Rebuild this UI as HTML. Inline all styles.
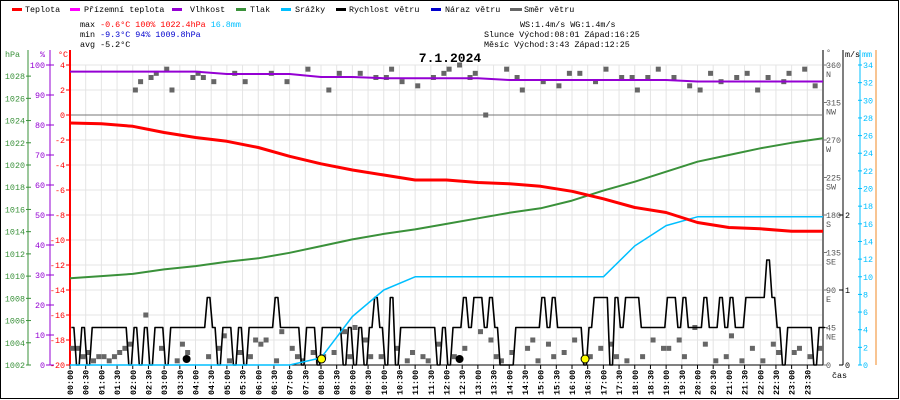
<!DOCTYPE html>
<html><head><meta charset="utf-8">
<style>
html,body{margin:0;padding:0;background:#fff;}
svg{display:block;font-family:"Liberation Mono","DejaVu Sans Mono",monospace;font-size:8.4px;white-space:pre;}
</style></head>
<body>
<svg id="chart" width="900" height="400" viewBox="0 0 900 400" xml:space="preserve">
<rect x="0.5" y="0.5" width="898" height="398" fill="#fff" stroke="#000" stroke-width="1"/>
<g id="legend">
 <g><rect x="12" y="8" width="10" height="3" fill="#ff0000"/><text x="25" y="12">Teplota</text></g>
 <g><rect x="70" y="8" width="10" height="3" fill="#ff00ff"/><text x="84" y="12">Přízemní teplota</text></g>
 <g><rect x="172" y="8" width="10" height="3" fill="#9400d3"/><text x="190" y="12">Vlhkost</text></g>
 <g><rect x="236" y="8" width="10" height="3" fill="#3a913a"/><text x="250" y="12">Tlak</text></g>
 <g><rect x="281" y="8" width="10" height="3" fill="#00bfff"/><text x="295" y="12">Srážky</text></g>
 <g><rect x="336" y="8" width="10" height="3" fill="#000"/><text x="349" y="12">Rychlost větru</text></g>
 <g><rect x="431" y="8" width="10" height="3" fill="#0000cd"/><text x="445" y="12">Náraz větru</text></g>
 <g><rect x="510" y="8" width="12" height="3" fill="#666"/><text x="524" y="12">Směr větru</text></g>
</g>
<g>
 <text x="80" y="27">max <tspan fill="#ff0000">-0.6°C 100%  1022.4hPa  </tspan><tspan fill="#00bfff">16.8mm</tspan></text>
 <text x="80" y="37">min <tspan fill="#0000cd">-9.3°C  94%  1009.8hPa</tspan></text>
 <text x="80" y="47">avg -5.2°C</text>
 <text x="520" y="27">WS:1.4m/s     WG:1.4m/s</text>
 <text x="484" y="37">Slunce Východ:08:01  Západ:16:25</text>
 <text x="484" y="47">Měsíc  Východ:3:43   Západ:12:25</text>
</g>
<text x="450" y="62" text-anchor="middle" font-weight="bold" font-size="13">7.1.2024</text>
<g id="grid"></g>
<g id="axes"></g>
<g id="series"></g>
</svg>
<script>
const hours = [0,1,2,3,4,5,6,7,8,9,10,11,12,13,14,15,16,17,18,19,20,21,22,23,24];
const temperature = [-0.64,-0.7,-0.9,-1.4,-1.8,-2.1,-2.6,-3.3,-3.9,-4.4,-4.8,-5.2,-5.2,-5.4,-5.5,-5.7,-6.1,-6.7,-7.4,-7.8,-8.6,-9.0,-9.1,-9.3,-9.3];
const pressure = [1009.8,1010.0,1010.2,1010.6,1010.9,1011.3,1011.6,1012.1,1012.7,1013.3,1013.8,1014.2,1014.7,1015.2,1015.7,1016.1,1016.8,1017.7,1018.5,1019.4,1020.3,1020.9,1021.5,1022.0,1022.4];
const humidity = [97.8,97.8,97.8,97.8,97.8,97.0,97.0,97.0,96.0,96.0,95.6,95.6,95.6,95.6,95.0,95.0,95.0,95.0,95.0,95.0,94.5,94.5,94.5,94.5,94.5];
const rain = [0,0,0,0,0,0,0,0,0.8,5.5,8.5,10,10,10,10,10,10,10,13.5,15.8,16.8,16.8,16.8,16.8,16.8];
const windSpeed = [
0.5,0,0.5,0,0.5,0.5, 0.5,0.5,0.5,0.5,0.5,0, 0.5,0,0.5,0,0.5,0.5, 0,0.5,0.5,0.5,0.5,0.5,
0.5,0.5,0.9,0.5,0,0.5, 0.5,0,0.5,0,0.5,0.5, 0.5,0.5,0.5,0.9,0.5,0.5, 0.5,0.5,0,0.5,0.5,0,
0.5,0.5,0.5,0.5,0,0.5, 0,0.5,0,0.5,0.9,0.5, 0,0.9,0,0.5,0.5,0.5, 0.5,0.5,0.5,0.5,0,0.5,
0,0.5,0.5,0.9,0.5,0.9, 0.9,0.5,0.9,0.5,0,0, 0,0.5,0.5,0.5,0.5,0.5, 0.9,0.5,0.9,0.5,0.5,0.5,
0.5,0.5,0,0.5,0.9,0.9, 0.9,0,0.9,0.5,0.9,0.9, 0.9,0.5,0.5,0.5,0.5,0.5, 0.9,0.9,0.5,0.9,0.5,0.5,
0.5,0.9,0.5,0.5,0.9,0.5, 0.9,0.5,0.5,0.9,0.9,0.9, 0.9,1.4,0.9,0.5,0,0.5, 0.5,0.5,0.5,0.5,0,0.5, 0.5];
const windDir = [
20,20,10,15,5,10, 10,5,10,15,20,25, 330,340,60,345,350,20, 355,330,5,25,15,345,
350,345,10,340,20,35, 5,350,15,340,10,30, 25,30,350,5,40,340, 20,10,5,355,15,5,
10,330,15,350,40,10, 45,350,30,10,345,10, 345,355,20,340,5,15, 335,10,5,345,25,350,
355,10,360,20,345,350, 40,300,30,10,5,355, 15,345,330,20,30,5, 340,25,10,335,15,350,
30,350,5,10,340,20, 355,25,10,345,5,345, 330,10,345,30,355,20, 20,345,30,10,335,45,
330,25,350,5,340,10, 35,345,5,350,20,330, 5,345,25,15,340,350, 15,20,355,10,335,20];
const xTickLabels = ["00:00","00:30","01:00","01:30","02:00","02:30","03:00","03:30","04:00","04:30","05:00","05:30","06:00","06:30","07:00","07:30","08:00","08:30","09:00","09:30","10:00","10:30","11:00","11:30","12:00","12:30","13:00","13:30","14:00","14:30","15:00","15:30","16:00","16:30","17:00","17:30","18:00","18:30","19:00","19:30","20:00","20:30","21:00","21:30","22:00","22:30","23:00","23:30"];
const tempTicks = [4,2,0,-2,-4,-6,-8,-10,-12,-14,-16,-18,-20];
const humTicks = [100,90,80,70,60,50,40,30,20,10,0];
const presTicks = [1028,1026,1024,1022,1020,1018,1016,1014,1012,1010,1008,1006,1004,1002];
const dirTicks = [360,315,270,225,180,135,90,45,0];
const dirNames = ["N","NW","W","SW","S","SE","E","NE",""];
const windTicks = [2,1,0];
const rainTicks = [34,32,30,28,26,24,22,20,18,16,14,12,10,8,6,4,2,0];
const sunEvents = [8+1/60, 16+25/60];
const moonEvents = [3+43/60, 12+25/60];

const X0=70, X1=823, Y0=65, Y1=365;
const xS = h => X0 + (X1-X0)*h/24;
const yT = t => Y0 + (4-t)*(Y1-Y0)/24;
const yH = v => Y1 - v*(Y1-Y0)/100;
const yP = p => Y1 - (p-1002)*(Y1-Y0)/27;
const yR = r => Y1 - r*(Y1-Y0)/34;
const yW = w => Y1 - w*75;
const yD = d => Y1 - d*(Y1-Y0)/360;
const NS="http://www.w3.org/2000/svg";
function mk(tag, attrs, parent, txt){const e=document.createElementNS(NS,tag);for(const k in attrs)e.setAttribute(k,attrs[k]);if(txt!==undefined)e.textContent=txt;parent.appendChild(e);return e;}
const grid=document.getElementById('grid'), axes=document.getElementById('axes'), series=document.getElementById('series');

for(let i=0;i<=48;i++){const x=xS(i/2);const l=mk('line',{x1:x,y1:Y0,x2:x,y2:Y1,stroke:'#e4e4e4'},grid);

}
tempTicks.forEach(t=>{const y=yT(t);const l=mk('line',{x1:X0,y1:y,x2:X1,y2:y,stroke:t===0?'#777':'#e4e4e4'},grid);

});

mk('line',{x1:X0,y1:Y0-15,x2:X0,y2:Y1,stroke:'#ff0000','stroke-width':2},axes);
mk('line',{x1:50,y1:Y0-15,x2:50,y2:Y1,stroke:'#9400d3','stroke-width':1},axes);
mk('line',{x1:28,y1:Y0-15,x2:28,y2:Y1,stroke:'#3a913a','stroke-width':1},axes);
mk('text',{x:5,y:57,fill:'#3a913a'},axes,'hPa');
mk('text',{x:40,y:57,fill:'#9400d3'},axes,'%');
mk('text',{x:58,y:57,fill:'#ff0000'},axes,'°C');
tempTicks.forEach(t=>{const y=yT(t);mk('line',{x1:66,y1:y,x2:X0,y2:y,stroke:'#ff0000'},axes);
const tx=mk('text',{x:65,y:y+3,'text-anchor':'end',fill:'#ff0000'},axes,String(t));

});
humTicks.forEach(v=>{const y=yH(v);mk('line',{x1:46,y1:y,x2:54,y2:y,stroke:'#9400d3'},axes);
const tx=mk('text',{x:45,y:y+3,'text-anchor':'end',fill:'#9400d3'},axes,String(v));

});
presTicks.forEach(p=>{const y=yP(p);mk('line',{x1:26,y1:y,x2:31,y2:y,stroke:'#3a913a'},axes);
const tx=mk('text',{x:25,y:y+3,'text-anchor':'end',fill:'#3a913a'},axes,String(p));

});

mk('line',{x1:X1,y1:Y0-15,x2:X1,y2:Y1,stroke:'#777','stroke-width':2},axes);
mk('line',{x1:843,y1:Y0-15,x2:843,y2:Y1,stroke:'#000','stroke-width':1},axes);
mk('line',{x1:860,y1:Y0-15,x2:860,y2:Y1,stroke:'#00bfff','stroke-width':1},axes);
mk('line',{x1:876,y1:Y0-15,x2:876,y2:Y1,stroke:'#f08a24','stroke-width':1},axes);
mk('text',{x:826,y:55,fill:'#555'},axes,'°');
mk('text',{x:845,y:57,fill:'#000'},axes,'m/s');
mk('text',{x:862,y:57,fill:'#00bfff'},axes,'mm');
dirTicks.forEach((d,i)=>{const y=yD(d);mk('line',{x1:X1,y1:y,x2:X1+4,y2:y,stroke:'#777'},axes);
const tx=mk('text',{x:826,y:y+3,fill:'#555'},axes,String(d));


if(dirNames[i])mk('text',{x:826,y:y+12,fill:'#555'},axes,dirNames[i]);});
windTicks.forEach(w=>{const y=yW(w);mk('line',{x1:839,y1:y,x2:843,y2:y,stroke:'#000'},axes);
const tx=mk('text',{x:845,y:y+3,fill:'#000'},axes,String(w));

});
rainTicks.forEach(r=>{const y=yR(r);mk('line',{x1:858,y1:y,x2:862,y2:y,stroke:'#00bfff'},axes);
const tx=mk('text',{x:863,y:y+3,fill:'#00bfff'},axes,String(r));

});
mk('text',{x:832,y:378,fill:'#000'},axes,'čas');

mk('line',{x1:X0,y1:Y1,x2:X1,y2:Y1,stroke:'#000'},axes);
xTickLabels.forEach((lab,i)=>{const x=xS(i/2);mk('line',{x1:x,y1:Y1,x2:x,y2:Y1+4,stroke:'#000'},axes);
const tx=mk('text',{x:0,y:0,transform:`translate(${x+3},395) rotate(-90)`,'font-weight':'bold'},axes,lab);

});

function path(xs, ys, color, width, name){const d=xs.map((x,i)=>(i?'L':'M')+x.toFixed(1)+','+ys[i].toFixed(1)).join(' ');
const p=mk('path',{d:d,fill:'none',stroke:color,'stroke-width':width,'stroke-linejoin':'round'},series);

return p;}

windDir.forEach((d,i)=>{const x=xS(i/6+1/12), y=yD(d);const r=mk('rect',{x:x-2.5,y:y-2.5,width:5,height:5,fill:'#666'},series);

});
const wx=[], wy=[];
windSpeed.forEach((w,i)=>{const a=xS(i/6), b=xS((i+1)/6);wx.push(a+1.3, Math.min(b-1.3, X1));wy.push(yW(w), yW(w));});
path(wx, wy, '#000', 1.6, 'wind-speed-line');
path(hours.map(xS), rain.map(yR), '#00bfff', 1.5, 'rain-line');
path(hours.map(xS), pressure.map(yP), '#3a913a', 2, 'pressure-line');
path(hours.map(xS), humidity.map(yH), '#9400d3', 2, 'humidity-line');
path(hours.map(xS), temperature.map(yT), '#ff0000', 3, 'temperature-line');

sunEvents.forEach(h=>{const c=mk('circle',{cx:xS(h),cy:359,r:4,fill:'#ffff00',stroke:'#000'},series);

});
moonEvents.forEach(h=>{const c=mk('circle',{cx:xS(h),cy:359,r:4,fill:'#000'},series);

});
</script>
</body></html>
